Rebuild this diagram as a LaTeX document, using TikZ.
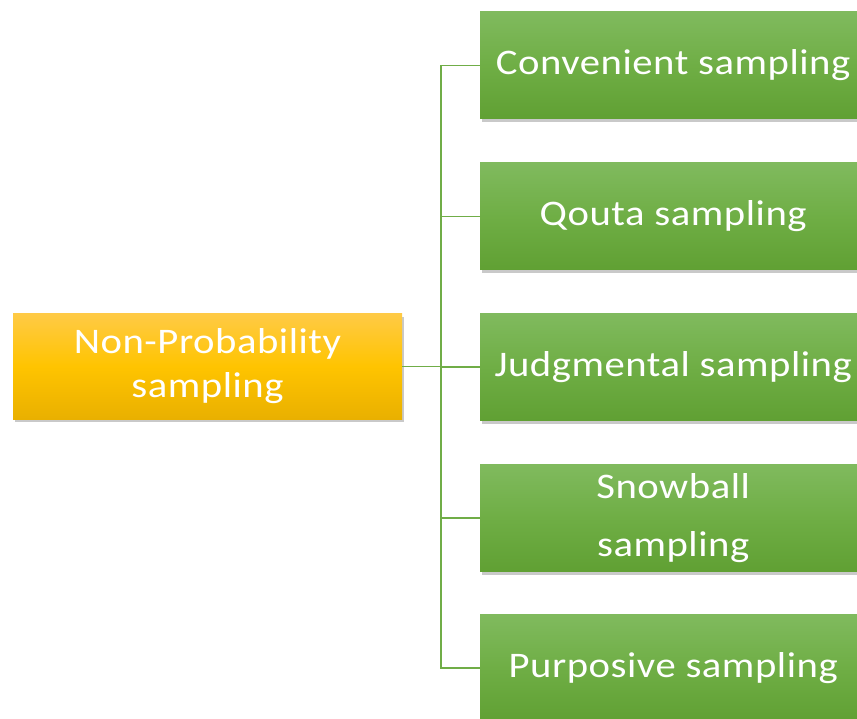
\documentclass[tikz,border=0pt]{standalone}
\usepackage{fontspec}
\setmainfont[FakeStretch=1.13, LetterSpace=1.5]{Carlito}
\usetikzlibrary{shadows}
\definecolor{linkgreen}{HTML}{70AD47}
\definecolor{greentop}{HTML}{80BA5E}
\definecolor{greenmid}{HTML}{6FAE45}
\definecolor{greenbot}{HTML}{60A033}
\definecolor{goldtop}{HTML}{FFCA45}
\definecolor{goldmid}{HTML}{FFC400}
\definecolor{goldbot}{HTML}{E9B000}
\tikzset{
  basebox/.style={rectangle, inner sep=0pt, text=white,
    font=\fontsize{36}{44}\selectfont, align=center,
    drop shadow={shadow xshift=2pt, shadow yshift=-3pt, opacity=0.35, fill=black!60}},
  leafbox/.style={basebox, minimum width=386pt, minimum height=107pt,
    top color=greentop, bottom color=greenbot, middle color=greenmid},
  rootbox/.style={basebox, minimum width=389pt, minimum height=105pt,
    top color=goldtop, bottom color=goldbot, middle color=goldmid},
  link/.style={draw=linkgreen, line width=1.6pt}
}
\begin{document}
\begin{tikzpicture}[x=1pt, y=-1pt]
  \useasboundingbox (0,0) rectangle (857,719);
  \clip (0,0) rectangle (857,719);
  \fill[white] (0,0) rectangle (857,719);

  % root of the tree
  \node[rootbox] (root) at (207.5,366.5) {Non-Probability\\sampling};

  % the five kinds of non-probability sampling
  \node[leafbox, anchor=west] (conv) at (480,65.5)  {Convenient sampling};
  \node[leafbox, anchor=west] (qout) at (480,216.5) {Qouta sampling};
  \node[leafbox, anchor=west] (judg) at (480,367)   {Judgmental sampling};
  \node[leafbox, anchor=west, font=\fontsize{36}{58}\selectfont] (snow) at (480,518) {Snowball\\sampling};
  \node[leafbox, anchor=west] (purp) at (480,668)   {Purposive sampling};

  % branching connectors
  \coordinate (trunk) at (441,366.5);
  \draw[link] (root.east) -- (trunk);
  \draw[link] (conv.west) -- (441,65.5) -- (441,668) -- (purp.west);
  \draw[link] (qout.west) -- (qout.west -| trunk);
  \draw[link] (judg.west) -- (judg.west -| trunk);
  \draw[link] (snow.west) -- (snow.west -| trunk);
\end{tikzpicture}
\end{document}
